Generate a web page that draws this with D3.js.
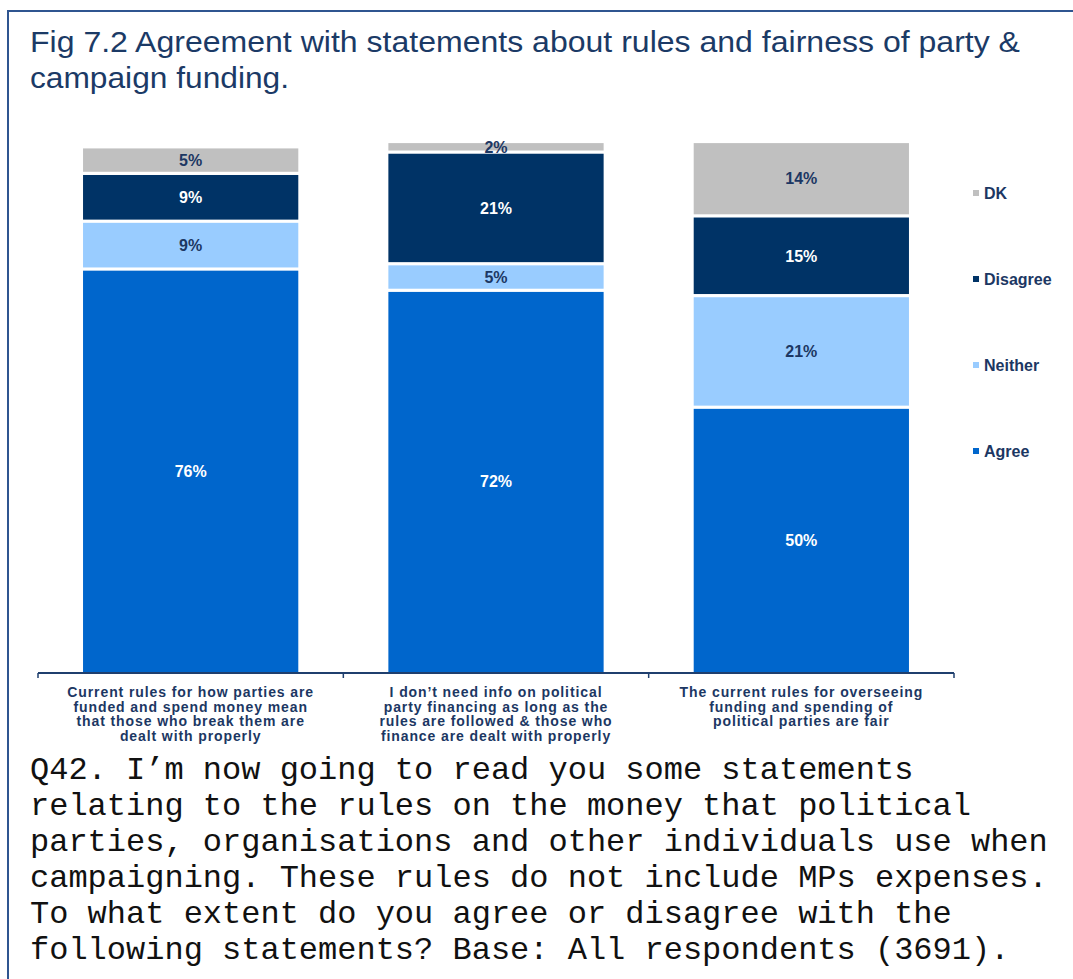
<!DOCTYPE html>
<html>
<head>
<meta charset="utf-8">
<script src="https://cdn.jsdelivr.net/npm/d3@7"></script>
<style>
  html, body { margin: 0; padding: 0; background: #fff; }
  svg { display: block; }
</style>
</head>
<body>
<svg id="chart" width="1073" height="979"></svg>
<script>
// Survey statements (x categories), each wrapped onto several lines
const categories = ["Rules deal with breakers", "No need for info", "Rules are fair"];
const categoryLines = [
  ["Current rules for how parties are", "funded and spend money mean", "that those who break them are", "dealt with properly"],
  ["I don\u2019t need info on political", "party financing as long as the", "rules are followed & those who", "finance are dealt with properly"],
  ["The current rules for overseeing", "funding and spending of", "political parties are fair"]
];

// Response shares (%), stacked bottom to top
const seriesNames = ["Agree", "Neither", "Disagree", "DK"];
const agree    = [76, 72, 50];
const neither  = [9, 5, 21];
const disagree = [9, 21, 15];
const dk       = [5, 2, 14];

const titleLines = [
  "Fig 7.2 Agreement with statements about rules and fairness of party &",
  "campaign funding."
];
const noteLines = [
  "Q42. I\u2019m now going to read you some statements",
  "relating to the rules on the money that political",
  "parties, organisations and other individuals use when",
  "campaigning. These rules do not include MPs expenses.",
  "To what extent do you agree or disagree with the",
  "following statements? Base: All respondents (3691)."
];

const colors = { Agree: "#0066cc", Neither: "#99ccff", Disagree: "#003366", DK: "#c0c0c0" };
const labelColors = { Agree: "#ffffff", Neither: "#1c3763", Disagree: "#ffffff", DK: "#1c3763" };
const navy = "#1c3763";

const svg = d3.select("#chart");

// Frame
svg.append("rect")
  .attr("x", 8).attr("y", 11)
  .attr("width", 1200).attr("height", 1200)
  .attr("fill", "none").attr("stroke", "#2f5590").attr("stroke-width", 2);

// Title
svg.append("g").selectAll("text").data(titleLines).join("text")
  .attr("x", 30)
  .attr("y", (d, i) => 52 + i * 36)
  .attr("font-family", "Liberation Sans, Arial, sans-serif")
  .attr("font-size", 30)
  .attr("fill", "#1b3a66")
  .attr("textLength", (d, i) => i === 0 ? 990 : 259)
  .attr("lengthAdjust", "spacingAndGlyphs")
  .text(d => d);

// Scales
const x = d3.scaleBand()
  .domain(categories)
  .range([38, 954])
  .paddingInner(0.295)
  .paddingOuter(0.1475);

const y = d3.scaleLinear().domain([0, 100]).range([673, 141.5]);

const table = categories.map((c, i) => ({
  category: c, Agree: agree[i], Neither: neither[i], Disagree: disagree[i], DK: dk[i]
}));
const stacked = d3.stack().keys(seriesNames)(table);

const gap = 1.6;
const layers = svg.append("g").selectAll("g").data(stacked).join("g")
  .attr("fill", s => colors[s.key]);

layers.selectAll("rect").data(s => s).join("rect")
  .attr("x", d => x(d.data.category))
  .attr("width", x.bandwidth())
  .attr("y", d => y(d[1]) + gap)
  .attr("height", d => Math.max(0, y(d[0]) - y(d[1]) - (d[0] === 0 ? gap : 2 * gap)));

// Value labels
svg.append("g").selectAll("g").data(stacked).join("g")
  .attr("fill", s => labelColors[s.key])
  .selectAll("text").data(s => s).join("text")
  .attr("x", d => x(d.data.category) + x.bandwidth() / 2)
  .attr("y", d => (y(d[0]) + y(d[1])) / 2)
  .attr("dy", "0.36em")
  .attr("text-anchor", "middle")
  .attr("font-family", "Liberation Sans, Arial, sans-serif")
  .attr("font-weight", "bold")
  .attr("font-size", 16)
  .text(d => `${d[1] - d[0]}%`);

// Category axis: baseline with ticks at band boundaries
const axis = svg.append("g").attr("stroke", "#1f3f6e").attr("stroke-width", 2);
axis.append("line")
  .attr("x1", x.range()[0]).attr("x2", x.range()[1])
  .attr("y1", y(0)).attr("y2", y(0));
const boundaries = [x.range()[0]].concat(categories.map(c => x(c) + x.bandwidth() + x.step() * x.paddingInner() / 2));
boundaries[boundaries.length - 1] = x.range()[1];
axis.selectAll("line.tick").data(boundaries).join("line")
  .attr("class", "tick")
  .attr("x1", d => d).attr("x2", d => d)
  .attr("y1", y(0)).attr("y2", y(0) + 5)
  .attr("stroke-width", 1.5);

// Category labels
const catG = svg.append("g").selectAll("text").data(categories).join("text")
  .attr("text-anchor", "middle")
  .attr("font-family", "Liberation Sans, Arial, sans-serif")
  .attr("font-weight", "bold")
  .attr("font-size", 14)
  .attr("letter-spacing", 0.9)
  .attr("fill", navy);
catG.selectAll("tspan").data((c, i) => categoryLines[i].map(t => ({ t, c }))).join("tspan")
  .attr("x", d => x(d.c) + x.bandwidth() / 2)
  .attr("y", (d, j) => 697 + j * 14.5)
  .text(d => d.t);

// Legend (top entry is the top of the stack)
const legendOrder = seriesNames.slice().reverse();
const ly = d3.scalePoint().domain(legendOrder).range([193, 451]);
const leg = svg.append("g").selectAll("g").data(legendOrder).join("g")
  .attr("transform", d => `translate(973,${ly(d)})`);
leg.append("rect")
  .attr("x", 0).attr("y", -3).attr("width", 6).attr("height", 6)
  .attr("fill", d => colors[d]);
leg.append("text")
  .attr("x", 11).attr("dy", "0.36em")
  .attr("font-family", "Liberation Sans, Arial, sans-serif")
  .attr("font-weight", "bold")
  .attr("font-size", 16)
  .attr("fill", navy)
  .text(d => d);

// Question note
svg.append("g").selectAll("text").data(noteLines).join("text")
  .attr("x", 30)
  .attr("y", (d, i) => 779 + i * 36)
  .attr("font-family", "Courier New, Liberation Mono, monospace")
  .attr("font-size", 32)
  .attr("fill", "#111")
  .text(d => d);
</script>
</body>
</html>
